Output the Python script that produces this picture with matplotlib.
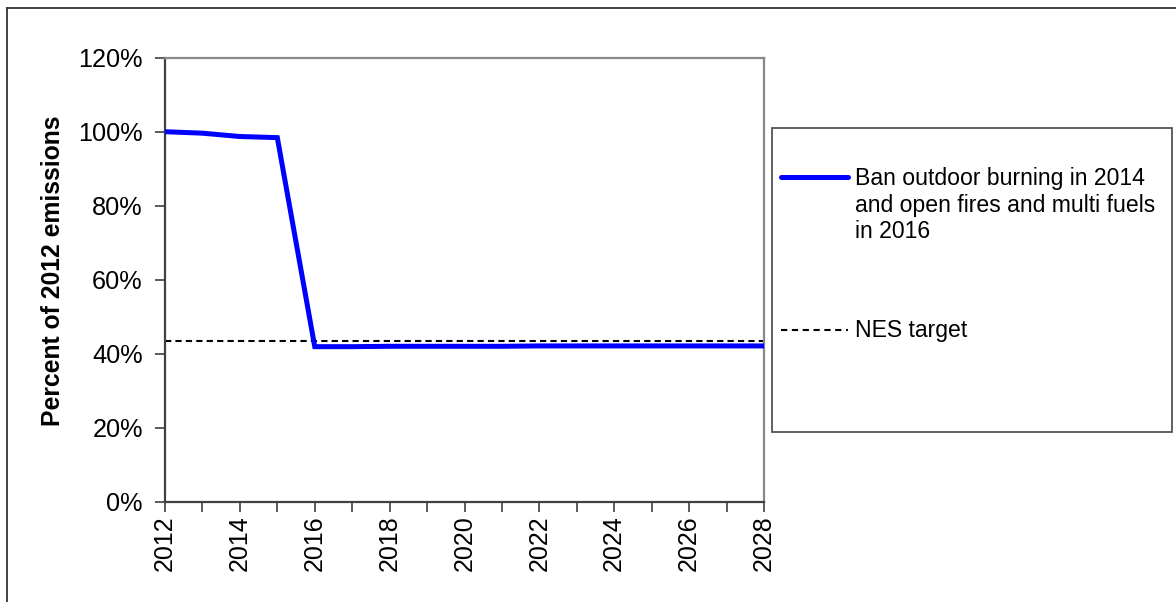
import matplotlib
matplotlib.use("Agg")
import matplotlib.pyplot as plt
from matplotlib.lines import Line2D
from matplotlib.patches import Rectangle
from matplotlib.ticker import MultipleLocator, FuncFormatter

plt.rcParams['font.family'] = ['Liberation Sans', 'DejaVu Sans']

# Emission projections, percent of 2012 level
years = [2012, 2013, 2014, 2015, 2016, 2017, 2018, 2019, 2020, 2021, 2022,
         2023, 2024, 2025, 2026, 2027, 2028]
ban_scenario = [100.0, 99.6, 98.7, 98.4, 41.9, 41.9, 42.0, 42.0, 42.0, 42.0,
                42.1, 42.1, 42.1, 42.1, 42.1, 42.1, 42.1]
nes_target = 43.5

series_label = "Ban outdoor burning in 2014\nand open fires and multi fuels\nin 2016"
target_label = "NES target"
y_label = "Percent of 2012 emissions"

W, H = 1176, 602
fig = plt.figure(figsize=(W / 100, H / 100), dpi=100)

def fx(px):
    return px / W

def fy(py):
    return 1 - py / H

# outer frame (top and left edges)
fig.add_artist(Line2D([fx(7), 1.0], [fy(8), fy(8)], color='#333333', lw=1.3))
fig.add_artist(Line2D([fx(7), fx(7)], [fy(8), 0.0], color='#333333', lw=1.3))

ax = fig.add_axes([fx(165), fy(501.7), fx(764) - fx(165), fy(57.7) - fy(501.7)])

ax.plot(years, ban_scenario, color='#0000FF', lw=3.6, solid_joinstyle='miter',
        solid_capstyle='butt', zorder=3, clip_on=False)
ax.plot([years[0], years[-1]], [nes_target, nes_target], color='black', lw=1.5,
        dashes=(3, 2), zorder=2)

ax.set_xlim(years[0], years[-1])
ax.set_ylim(0, 120)
ax.xaxis.set_major_locator(MultipleLocator(2))
ax.xaxis.set_minor_locator(MultipleLocator(1))
ax.yaxis.set_major_locator(MultipleLocator(20))
ax.yaxis.set_major_formatter(FuncFormatter(lambda v, p: f"{v:.0f}%"))
ax.xaxis.set_major_formatter(FuncFormatter(lambda v, p: f"{v:.0f}"))

ax.tick_params(axis='x', which='both', direction='out', length=7, width=1.2,
               color='#404040', labelsize=18, rotation=90, pad=3)
ax.tick_params(axis='y', which='major', direction='out', length=7, width=1.2,
               color='#404040', labelsize=18.2, pad=9)

for side in ('left', 'bottom'):
    ax.spines[side].set_color('#404040')
    ax.spines[side].set_linewidth(1.6)
for side in ('top', 'right'):
    ax.spines[side].set_color('#888888')
    ax.spines[side].set_linewidth(1.6)

fig.text(fx(53), fy(271), y_label, rotation=90, ha='center', va='center',
         fontsize=17.8, fontweight='bold')

# legend panel
fig.add_artist(Rectangle((fx(772), fy(432)), fx(1172) - fx(772), fy(128) - fy(432),
                         transform=fig.transFigure, fill=False,
                         edgecolor='#555555', lw=1.3))
fig.add_artist(Line2D([fx(781), fx(848)], [fy(177), fy(177)], color='#0000FF',
                      lw=3.6, solid_capstyle='round'))
fig.text(fx(855), fy(167.5), series_label, ha='left', va='top', fontsize=16.6,
         linespacing=1.18)
fig.add_artist(Line2D([fx(781), fx(848)], [fy(330), fy(330)], color='black',
                      lw=1.5, dashes=(3, 2.2)))
fig.text(fx(855), fy(330), target_label, ha='left', va='center', fontsize=16.6)

fig.savefig("out.png", dpi=100)
